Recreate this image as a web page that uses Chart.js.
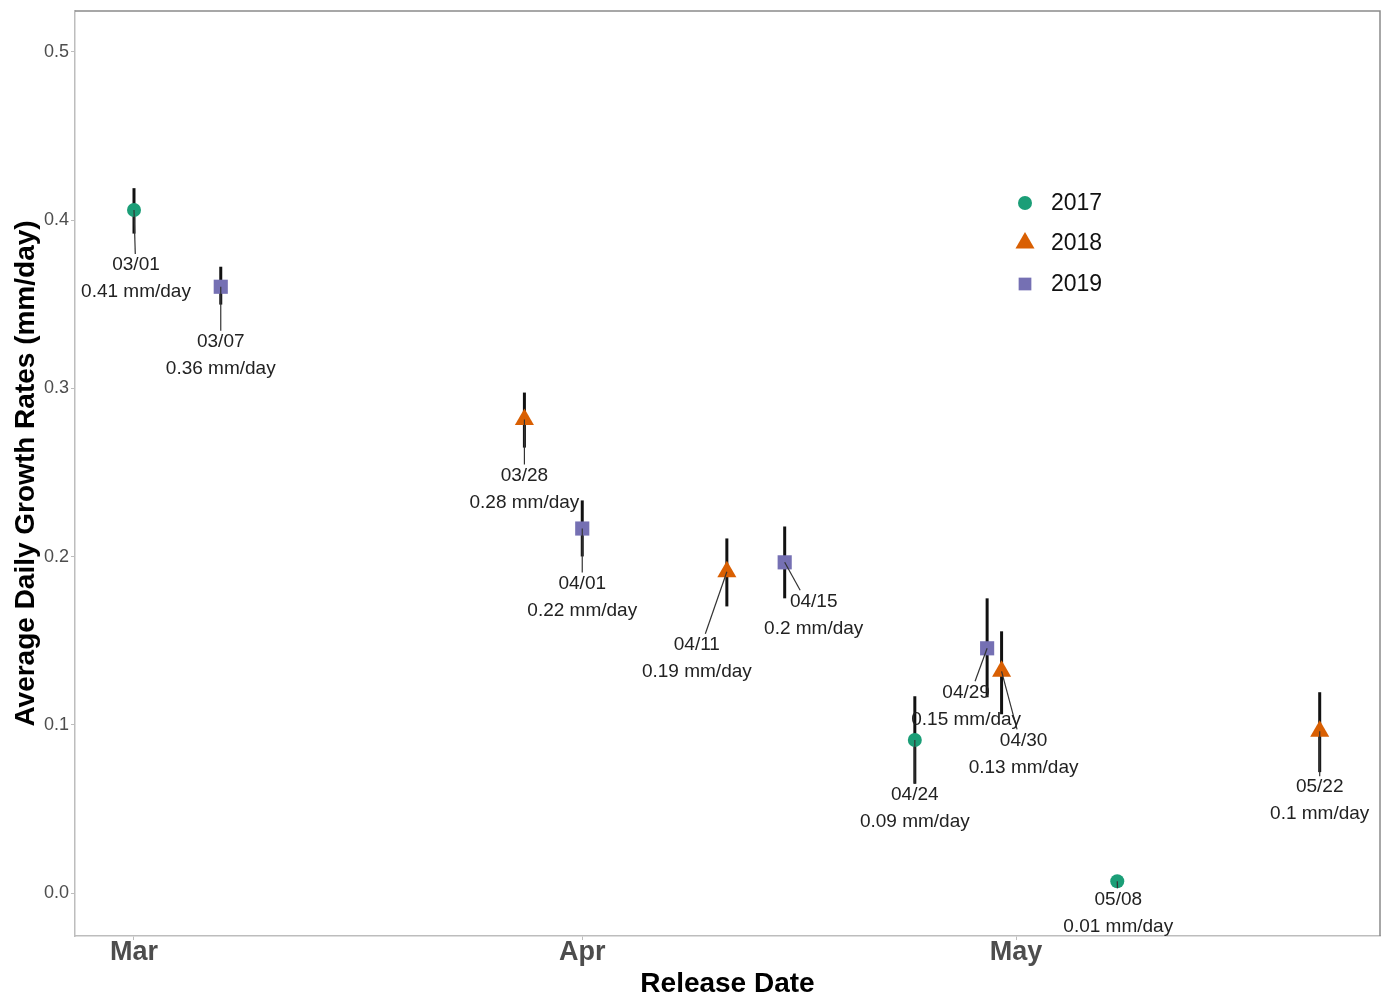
<!DOCTYPE html>
<html>
<head>
<meta charset="utf-8">
<script src="https://cdn.jsdelivr.net/npm/chart.js@4.4.0/dist/chart.umd.min.js"></script>
<style>
  html, body { margin: 0; padding: 0; background: #fff; overflow: hidden; }
  canvas { display: block; }
</style>
</head>
<body>
<canvas id="growthChart" width="1384" height="997"></canvas>
<script>
// data
const years = ['2017', '2018', '2019'];

const dates2017 = ['03/01', '04/24', '05/08'];
const rates2017 = [0.406, 0.091, 0.007];
const low2017 = [0.392, 0.065, 0.005];
const high2017 = [0.419, 0.117, 0.009];

const dates2018 = ['03/28', '04/11', '04/30', '05/22'];
const rates2018 = [0.2815, 0.191, 0.1318, 0.0962];
const low2018 = [0.2648, 0.1704, 0.1063, 0.0719];
const high2018 = [0.2975, 0.2108, 0.1556, 0.1194];

const dates2019 = ['03/07', '04/01', '04/15', '04/29'];
const rates2019 = [0.3604, 0.2167, 0.1966, 0.1455];
const low2019 = [0.3498, 0.2001, 0.1752, 0.1164];
const high2019 = [0.3723, 0.2334, 0.2179, 0.1752];

const monthTicks = [0, 31, 61];
const monthLabels = ['Mar', 'Apr', 'May'];
const yTicks = [0, 0.1, 0.2, 0.3, 0.4, 0.5];

// label placement (pixels from the point, to centre of first line)
const labelShift = {
  '2017': [[2, 55], [0, 55], [1, 18]],
  '2018': [[0, 56], [-30, 73], [22, 69], [0, 56]],
  '2019': [[0, 55], [0, 55], [29, 39], [-21, 44]]
};

const colors = ['#1b9e77', '#d95f02', '#7570b3'];
const shapes = ['circle', 'triangle', 'rect'];
const radii = [7, 11, 10];
const FONT = '"Liberation Sans", Arial, sans-serif';

// days since Mar 1
const monthStart = { '03': 0, '04': 31, '05': 61 };
function dayOf(d) {
  const p = d.split('/');
  return monthStart[p[0]] + Number(p[1]) - 1;
}

const series = [
  { dates: dates2017, rates: rates2017, low: low2017, high: high2017 },
  { dates: dates2018, rates: rates2018, low: low2018, high: high2018 },
  { dates: dates2019, rates: rates2019, low: low2019, high: high2019 }
];

const datasets = series.map((s, i) => ({
  label: years[i],
  data: s.dates.map((d, j) => ({ x: dayOf(d), y: s.rates[j] })),
  pointStyle: shapes[i],
  pointRadius: radii[i],
  pointHoverRadius: radii[i],
  backgroundColor: colors[i],
  borderColor: colors[i],
  borderWidth: 0,
  showLine: false
}));

function noPad(s) {
  s.paddingTop = 0; s.paddingBottom = 0; s.paddingLeft = 0; s.paddingRight = 0;
}

// keep the panel's right edge 4px from the canvas edge
const fixRight = {
  id: 'fixRight',
  afterLayout(chart) {
    const r = chart.width - 4;
    const a = chart.chartArea, xs = chart.scales.x;
    a.right = r;
    a.width = r - a.left;
    xs.right = r;
    xs.width = r - xs.left;
    xs.configure();
  }
};

const errorBars = {
  id: 'errorBars',
  beforeDatasetsDraw(chart) {
    const ctx = chart.ctx, xs = chart.scales.x, ys = chart.scales.y;
    ctx.save();
    ctx.strokeStyle = '#111';
    ctx.lineWidth = 3;
    series.forEach(s => {
      s.dates.forEach((d, j) => {
        const x = xs.getPixelForValue(dayOf(d));
        ctx.beginPath();
        ctx.moveTo(x, ys.getPixelForValue(s.low[j]));
        ctx.lineTo(x, ys.getPixelForValue(s.high[j]));
        ctx.stroke();
      });
    });
    ctx.restore();
  }
};

const pointLabels = {
  id: 'pointLabels',
  afterDatasetsDraw(chart) {
    const ctx = chart.ctx, xs = chart.scales.x, ys = chart.scales.y;
    ctx.save();
    ctx.font = '19px ' + FONT;
    ctx.textAlign = 'center';
    ctx.textBaseline = 'middle';
    series.forEach((s, i) => {
      s.dates.forEach((d, j) => {
        const px = xs.getPixelForValue(dayOf(d));
        const py = ys.getPixelForValue(s.rates[j]);
        const sh = labelShift[years[i]][j];
        const cx = px + sh[0];
        const y1 = py + sh[1];
        const y2 = y1 + 27;
        const t1 = d;
        const t2 = String(Math.round(s.rates[j] * 100) / 100) + ' mm/day';
        const w = Math.max(ctx.measureText(t1).width, ctx.measureText(t2).width);
        const left = cx - w / 2, right = cx + w / 2, top = y1 - 11, bottom = y2 + 11;
        const cy = (top + bottom) / 2;
        const dx = cx - px, dy = cy - py;
        let tx = -1, ty = -1;
        if (px < left) tx = (left - px) / dx; else if (px > right) tx = (right - px) / dx;
        if (py < top) ty = (top - py) / dy; else if (py > bottom) ty = (bottom - py) / dy;
        const t = Math.max(tx, ty);
        if (t > 0) {
          ctx.strokeStyle = '#333';
          ctx.lineWidth = 1.2;
          ctx.beginPath();
          ctx.moveTo(px, py);
          ctx.lineTo(px + dx * t, py + dy * t);
          ctx.stroke();
        }
        ctx.fillStyle = '#222';
        ctx.fillText(t1, cx, y1);
        ctx.fillText(t2, cx, y2);
      });
    });
    ctx.restore();
  }
};

const frameAndLegend = {
  id: 'frameAndLegend',
  afterDraw(chart) {
    const ctx = chart.ctx, a = chart.chartArea;
    ctx.save();
    ctx.strokeStyle = '#8a8a8a';
    ctx.lineWidth = 1.5;
    ctx.beginPath();
    ctx.moveTo(a.left, a.top);
    ctx.lineTo(a.right, a.top);
    ctx.lineTo(a.right, a.bottom);
    ctx.stroke();
    // legend
    const lx = 1025, rows = [203, 243, 284];
    const lr = [7, 11, 9];
    ctx.font = '23px ' + FONT;
    ctx.textAlign = 'left';
    ctx.textBaseline = 'middle';
    years.forEach((yr, i) => {
      ctx.fillStyle = colors[i];
      ctx.strokeStyle = colors[i];
      Chart.helpers.drawPoint(ctx, { pointStyle: shapes[i], radius: lr[i], rotation: 0, borderWidth: 0 }, lx, rows[i]);
      ctx.fillStyle = '#111';
      ctx.fillText(yr, 1051, rows[i] + 1);
    });
    ctx.restore();
  }
};

new Chart(document.getElementById('growthChart'), {
  type: 'scatter',
  data: { datasets: datasets },
  options: {
    responsive: false,
    animation: false,
    devicePixelRatio: 1,
    layout: { padding: { top: 10, right: 4, left: 0, bottom: 0 } },
    plugins: { legend: { display: false }, tooltip: { enabled: false } },
    scales: {
      x: {
        type: 'linear',
        min: -4.08,
        max: 86.17,
        afterFit(s) { s.height = 61; noPad(s); },
        afterBuildTicks(s) { s.ticks = monthTicks.map(v => ({ value: v })); },
        grid: { drawOnChartArea: false, drawTicks: true, tickLength: 4, color: '#bdbdbd' },
        border: { display: true, color: '#bdbdbd', width: 1.5 },
        ticks: {
          autoSkip: false,
          maxRotation: 0,
          padding: -4,
          color: '#4d4d4d',
          font: { family: FONT, size: 27, weight: 'bold' },
          callback: v => monthLabels[monthTicks.indexOf(v)]
        },
        title: {
          display: true,
          text: 'Release Date',
          color: '#000',
          padding: { top: 0, bottom: -4 },
          font: { family: FONT, size: 28, weight: 'bold' }
        }
      },
      y: {
        min: -0.0255,
        max: 0.5243,
        afterFit(s) { s.width = 75; noPad(s); },
        afterBuildTicks(s) { s.ticks = yTicks.map(v => ({ value: v })); },
        grid: { drawOnChartArea: false, drawTicks: true, tickLength: 4, color: '#bdbdbd' },
        border: { display: true, color: '#bdbdbd', width: 1.5 },
        ticks: {
          padding: 2,
          color: '#4d4d4d',
          font: { family: FONT, size: 18 },
          callback: v => v.toFixed(1)
        },
        title: {
          display: true,
          text: 'Average Daily Growth Rates (mm/day)',
          color: '#000',
          padding: { top: 9, bottom: 0 },
          font: { family: FONT, size: 28, weight: 'bold' }
        }
      }
    }
  },
  plugins: [fixRight, errorBars, pointLabels, frameAndLegend]
});
</script>
</body>
</html>
